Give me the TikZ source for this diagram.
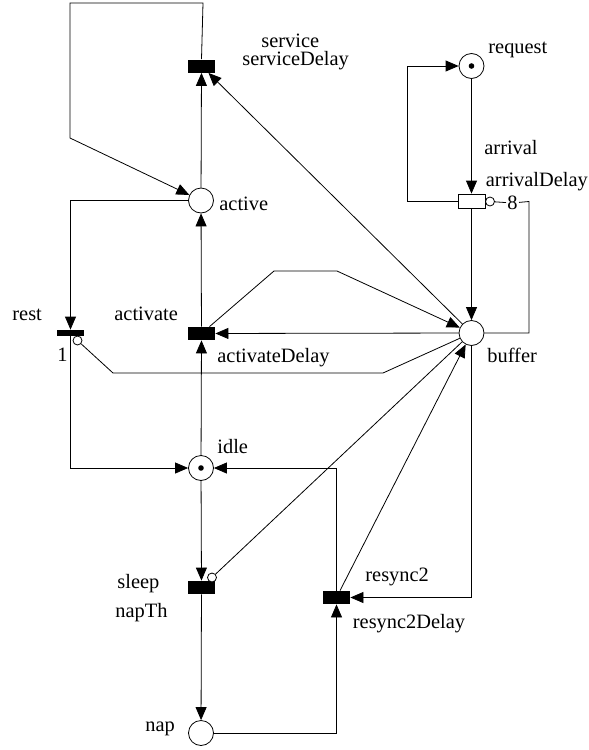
\documentclass[tikz,border=0pt]{standalone}
\usepackage{fontspec}
\setmainfont{Liberation Serif}
\usetikzlibrary{arrows.meta}
\begin{document}
\begin{tikzpicture}[x=1pt,y=-1pt,
  every path/.style={line width=0.8pt},
  place/.style={circle,draw,line width=0.8pt,minimum size=25pt,inner sep=0pt},
  marked/.style={place,path picture={\fill (path picture bounding box.center) circle (2.8pt);}},
  trans/.style={rectangle,fill=black,minimum width=27pt,minimum height=13pt,inner sep=0pt},
  bar/.style={rectangle,fill=black,minimum width=27pt,minimum height=6pt,inner sep=0pt},
  wtrans/.style={rectangle,draw,fill=white,line width=0.8pt,minimum width=27pt,minimum height=14pt,inner sep=0pt},
  inhib/.style={circle,draw,fill=white,line width=0.8pt,minimum size=9pt,inner sep=0pt},
  lbl/.style={font=\fontsize{20.4}{24}\selectfont,inner sep=0pt,anchor=base west},
  flow/.style={-{Triangle[length=13pt,width=11pt]}},
]
\useasboundingbox (0,0) rectangle (589,750);

% places
\node[place]  (active)  at (201,200.5) {};
\node[marked] (idle)    at (201,468) {};
\node[place]  (nap)     at (201,733) {};
\node[place]  (buffer)  at (471.5,333) {};
\node[marked] (request) at (471.5,66) {};

% transitions
\node[trans]  (service)  at (201.5,66) {};
\node[trans]  (activate) at (201.5,333.5) {};
\node[trans]  (sleep)    at (201.5,587.5) {};
\node[trans]  (resync2)  at (336.5,597.5) {};
\node[bar]    (rest)     at (70.5,333) {};
\node[wtrans] (arrival)  at (471.5,201) {};

% inhibitor circles
\node[inhib] (restinh)  at (77.5,340.5) {};
\node[inhib] (sleepinh) at (212,577.5) {};
\node[inhib] (arrinh)   at (490,201.5) {};
\node[font=\fontsize{20.4}{24}\selectfont,inner sep=1pt] (w8) at (512.5,203) {8};

% labels
\node[lbl] (lservice)  at (261,47) {service};
\node[lbl] (lserviced) at (242,65.5) {serviceDelay};
\node[lbl] (lrequest)  at (488,53) {request};
\node[lbl] (larrival)  at (484,154) {arrival};
\node[lbl] (larrivald) at (485.5,186) {arrivalDelay};
\node[lbl] (lactive)   at (219,210.5) {active};
\node[lbl] (lrest)     at (12,320) {rest};
\node[lbl] (lone)      at (57,361.5) {1};
\node[lbl] (lactivate) at (114,320) {activate};
\node[lbl] (lactd)     at (217,362.5) {activateDelay};
\node[lbl] (lbuffer)   at (487,362.5) {buffer};
\node[lbl] (lidle)     at (217,453) {idle};
\node[lbl] (lsleep)    at (117,588) {sleep};
\node[lbl] (lnapth)    at (115,617) {napTh};
\node[lbl] (lnap)      at (145,731.5) {nap};
\node[lbl] (lresync)   at (365,581.5) {resync2};
\node[lbl] (lresyncd)  at (352.5,628) {resync2Delay};

% arcs
\draw[flow] (service.north) -- (203,3) -- (70,3) -- (70,138) -- (active);
\draw[flow] (active) -- (active -| rest) -- (rest);
\draw[flow] (rest) -- (rest |- idle) -- (idle);
\draw (buffer) -- (383,373) -- (113,373) -- (restinh);
\draw[flow] (activate) -- (active);
\draw[flow] (active) -- (service);
\draw[flow] (buffer) -- (service);
\draw[flow] (buffer) -- (activate);
\draw[flow] (activate) -- (274,271) -- (337,271) -- (buffer);
\draw[flow] (idle) -- (activate);
\draw[flow] (idle) -- (sleep);
\draw (buffer) -- (sleepinh);
\draw[flow] (sleep) -- (nap);
\draw[flow] (nap) -- (nap -| resync2) -- (resync2);
\draw[flow] (resync2) -- (resync2 |- idle) -- (idle);
\draw[flow] (resync2) -- (buffer);
\draw[flow] (buffer) -- (buffer |- resync2) -- (resync2);
\draw[flow] (request) -- (arrival);
\draw[flow] (arrival) -- (buffer);
\draw[flow] (arrival) -- (407,201) -- (407,66) -- (request);
\draw (buffer) -- (529,333) -- (529,201.5) -- (w8);
\draw (w8) -- (arrinh);
\end{tikzpicture}
\end{document}
